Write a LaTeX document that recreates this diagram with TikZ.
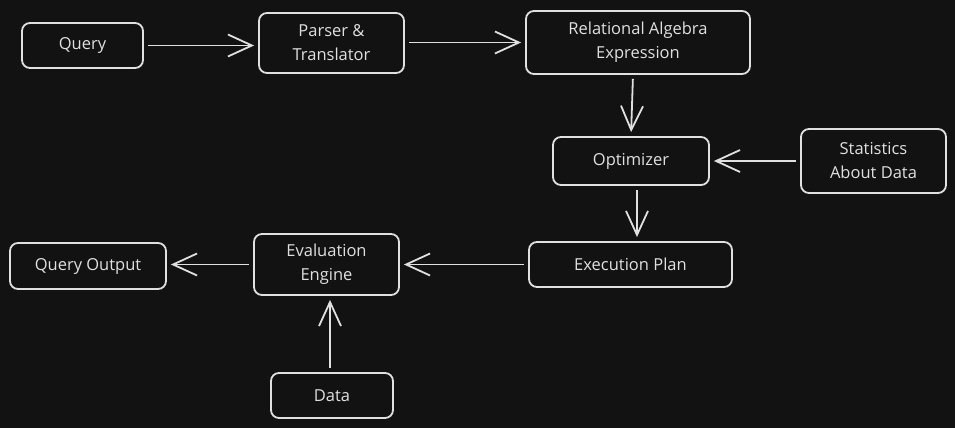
\documentclass[tikz,border=0pt]{standalone}
\usepackage{fontspec}
\setmainfont{Open Sans}
\usetikzlibrary{arrows.meta}
\definecolor{bg}{HTML}{121212}
\definecolor{ink}{HTML}{E0E0E0}
\begin{document}
\begin{tikzpicture}[x=1pt,y=-1pt,
  box/.style={draw=ink, line width=1.8pt, rounded corners=8pt, text=ink,
    align=center, font=\fontsize{16.5}{24}\selectfont, inner sep=0pt},
  arr/.style={draw=ink, line width=1.8pt, shorten <=4pt, shorten >=4pt,
    -{Straight Barb[length=24pt,width=22pt,line width=1.8pt]}}]
\fill[bg] (0,0) rectangle (955,428);
\useasboundingbox (0,0) rectangle (955,428);
\node[box, minimum width=121, minimum height=45] (q) at (82.5,45.5) {Query};
\node[box, minimum width=145, minimum height=60] (p) at (331.5,43) {Parser \&\\Translator};
\node[box, minimum width=224, minimum height=63] (r) at (638,42.5) {Relational Algebra\\Expression};
\node[box, minimum width=156, minimum height=48] (o) at (631,161) {Optimizer};
\node[box, minimum width=145, minimum height=64] (s) at (873.5,161) {Statistics\\About Data};
\node[box, minimum width=203, minimum height=45] (x) at (630.5,264.5) {Execution Plan};
\node[box, minimum width=145, minimum height=61] (e) at (326.5,264.5) {Evaluation\\Engine};
\node[box, minimum width=156, minimum height=46] (qo) at (88,266) {Query Output};
\node[box, minimum width=122, minimum height=45] (d) at (332,395.5) {Data};
\draw[arr] (q.east) -- (q.east -| p.west);
\draw[arr] (p.east |- r.west) -- (r.west);
\draw[arr] ([xshift=-5pt]r.south) -- (o.north);
\draw[arr] (s.west) -- (s.west -| o.east);
\draw[arr] ([xshift=6pt]o.south) -- ([xshift=6pt]o.south |- x.north);
\draw[arr] (x.west) -- (x.west -| e.east);
\draw[arr] (e.west) -- (e.west -| qo.east);
\draw[arr] ([xshift=-2pt]d.north) -- ([xshift=-2pt]d.north |- e.south);
\end{tikzpicture}
\end{document}
